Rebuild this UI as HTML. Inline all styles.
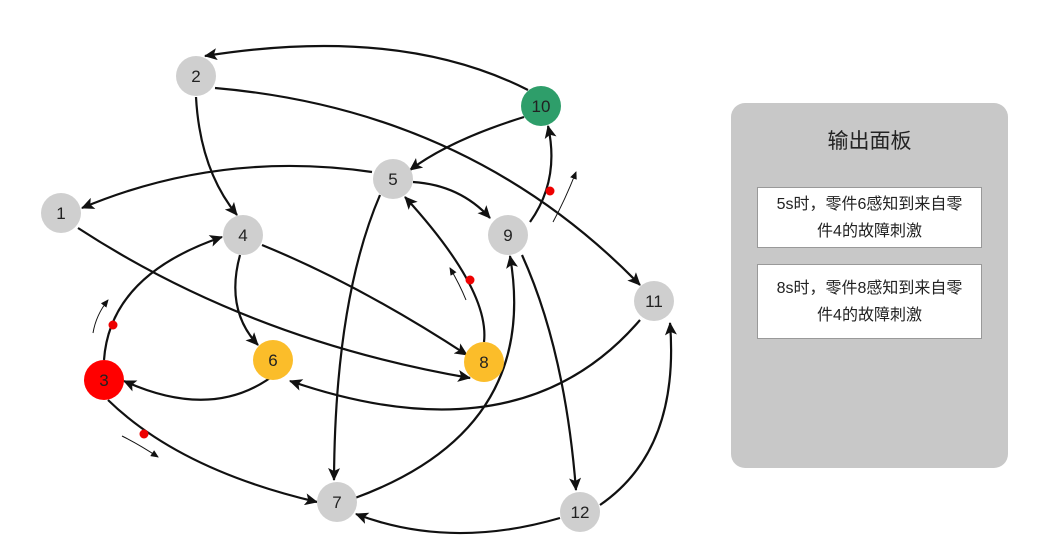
<!DOCTYPE html>
<html><head><meta charset="utf-8"><style>
body{margin:0;width:1064px;height:552px;background:#fff;overflow:hidden;font-family:"Liberation Sans","Noto Sans CJK SC",sans-serif;}
svg{position:absolute;left:0;top:0}
.panel{position:absolute;left:731px;top:103px;width:277px;height:365px;background:#c8c8c8;border-radius:14px}
.title{position:absolute;left:0;width:277px;top:22px;text-align:center;font-size:21px;color:#222}
.box{position:absolute;left:26px;width:225px;background:#fff;border:1px solid #999;font-size:16px;color:#222;text-align:center;line-height:27px}
</style></head><body>
<svg width="1064" height="552" viewBox="0 0 1064 552">
<defs><marker id="a" markerWidth="13" markerHeight="12" refX="12" refY="6" orient="auto" markerUnits="userSpaceOnUse"><path d="M0,0L13,6L0,12L3,6z" fill="#111"/></marker>
<marker id="s" markerWidth="8" markerHeight="7" refX="7" refY="3.5" orient="auto" markerUnits="userSpaceOnUse"><path d="M0,0L8,3.5L0,7z" fill="#111"/></marker></defs>
<g fill="none" stroke="#111" stroke-width="2.2" marker-end="url(#a)">
<path d="M528,90 Q400,25 205,56"/>
<path d="M215,88 Q470,110 640,285"/>
<path d="M196,97 Q200,170 237,215"/>
<path d="M524,117 Q450,140 410,170"/>
<path d="M372,172 Q220,150 82,208"/>
<path d="M413,182 Q460,185 490,218"/>
<path d="M380,195 Q335,300 334,480"/>
<path d="M484,342 Q490,290 405,197"/>
<path d="M530,222 Q560,180 548,126"/>
<path d="M522,255 Q565,350 576,490"/>
<path d="M78,228 Q250,340 470,378"/>
<path d="M240,255 Q225,310 258,345"/>
<path d="M262,245 Q360,285 467,355"/>
<path d="M104,360 Q110,275 222,237"/>
<path d="M270,378 Q210,420 124,381"/>
<path d="M108,400 Q180,470 317,502"/>
<path d="M355,498 Q540,430 510,256"/>
<path d="M640,320 Q520,460 290,381"/>
<path d="M600,505 Q680,450 670,323"/>
<path d="M560,518 Q450,550 356,514"/>
</g>
<g fill="none" stroke="#111" stroke-width="1" marker-end="url(#s)">
<path d="M93,333 Q96,315 108,300"/>
<path d="M122,436 Q140,445 158,457"/>
<path d="M466,300 Q460,285 450,268"/>
<path d="M553,222 Q565,200 576,172"/>
</g>
<g fill="#e00"><circle cx="113" cy="325" r="4.5"/><circle cx="144" cy="434" r="4.5"/><circle cx="470" cy="280" r="4.5"/><circle cx="550" cy="191" r="4.5"/></g>
<g font-size="17" text-anchor="middle" fill="#222">
<circle cx="196" cy="76" r="20" fill="#cfcfcf"/><text x="196" y="82">2</text>
<circle cx="541" cy="106" r="20" fill="#2e9e6a"/><text x="541" y="112">10</text>
<circle cx="393" cy="179" r="20" fill="#cfcfcf"/><text x="393" y="185">5</text>
<circle cx="61" cy="213" r="20" fill="#cfcfcf"/><text x="61" y="219">1</text>
<circle cx="243" cy="235" r="20" fill="#cfcfcf"/><text x="243" y="241">4</text>
<circle cx="508" cy="235" r="20" fill="#cfcfcf"/><text x="508" y="241">9</text>
<circle cx="654" cy="301" r="20" fill="#cfcfcf"/><text x="654" y="307">11</text>
<circle cx="104" cy="380" r="20" fill="#f00"/><text x="104" y="386">3</text>
<circle cx="273" cy="360" r="20" fill="#fbbd2a"/><text x="273" y="366">6</text>
<circle cx="484" cy="362" r="20" fill="#fbbd2a"/><text x="484" y="368">8</text>
<circle cx="337" cy="502" r="20" fill="#cfcfcf"/><text x="337" y="508">7</text>
<circle cx="580" cy="512" r="20" fill="#cfcfcf"/><text x="580" y="518">12</text>
</g>
</svg>
<div class="panel"><div class="title">输出面板</div>
<div class="box" style="top:84px;height:61px;padding-top:3px;box-sizing:border-box">5s时，零件6感知到来自零<br>件4的故障刺激</div>
<div class="box" style="top:161px;height:75px;padding-top:10px;box-sizing:border-box">8s时，零件8感知到来自零<br>件4的故障刺激</div>
</div>
</body></html>
